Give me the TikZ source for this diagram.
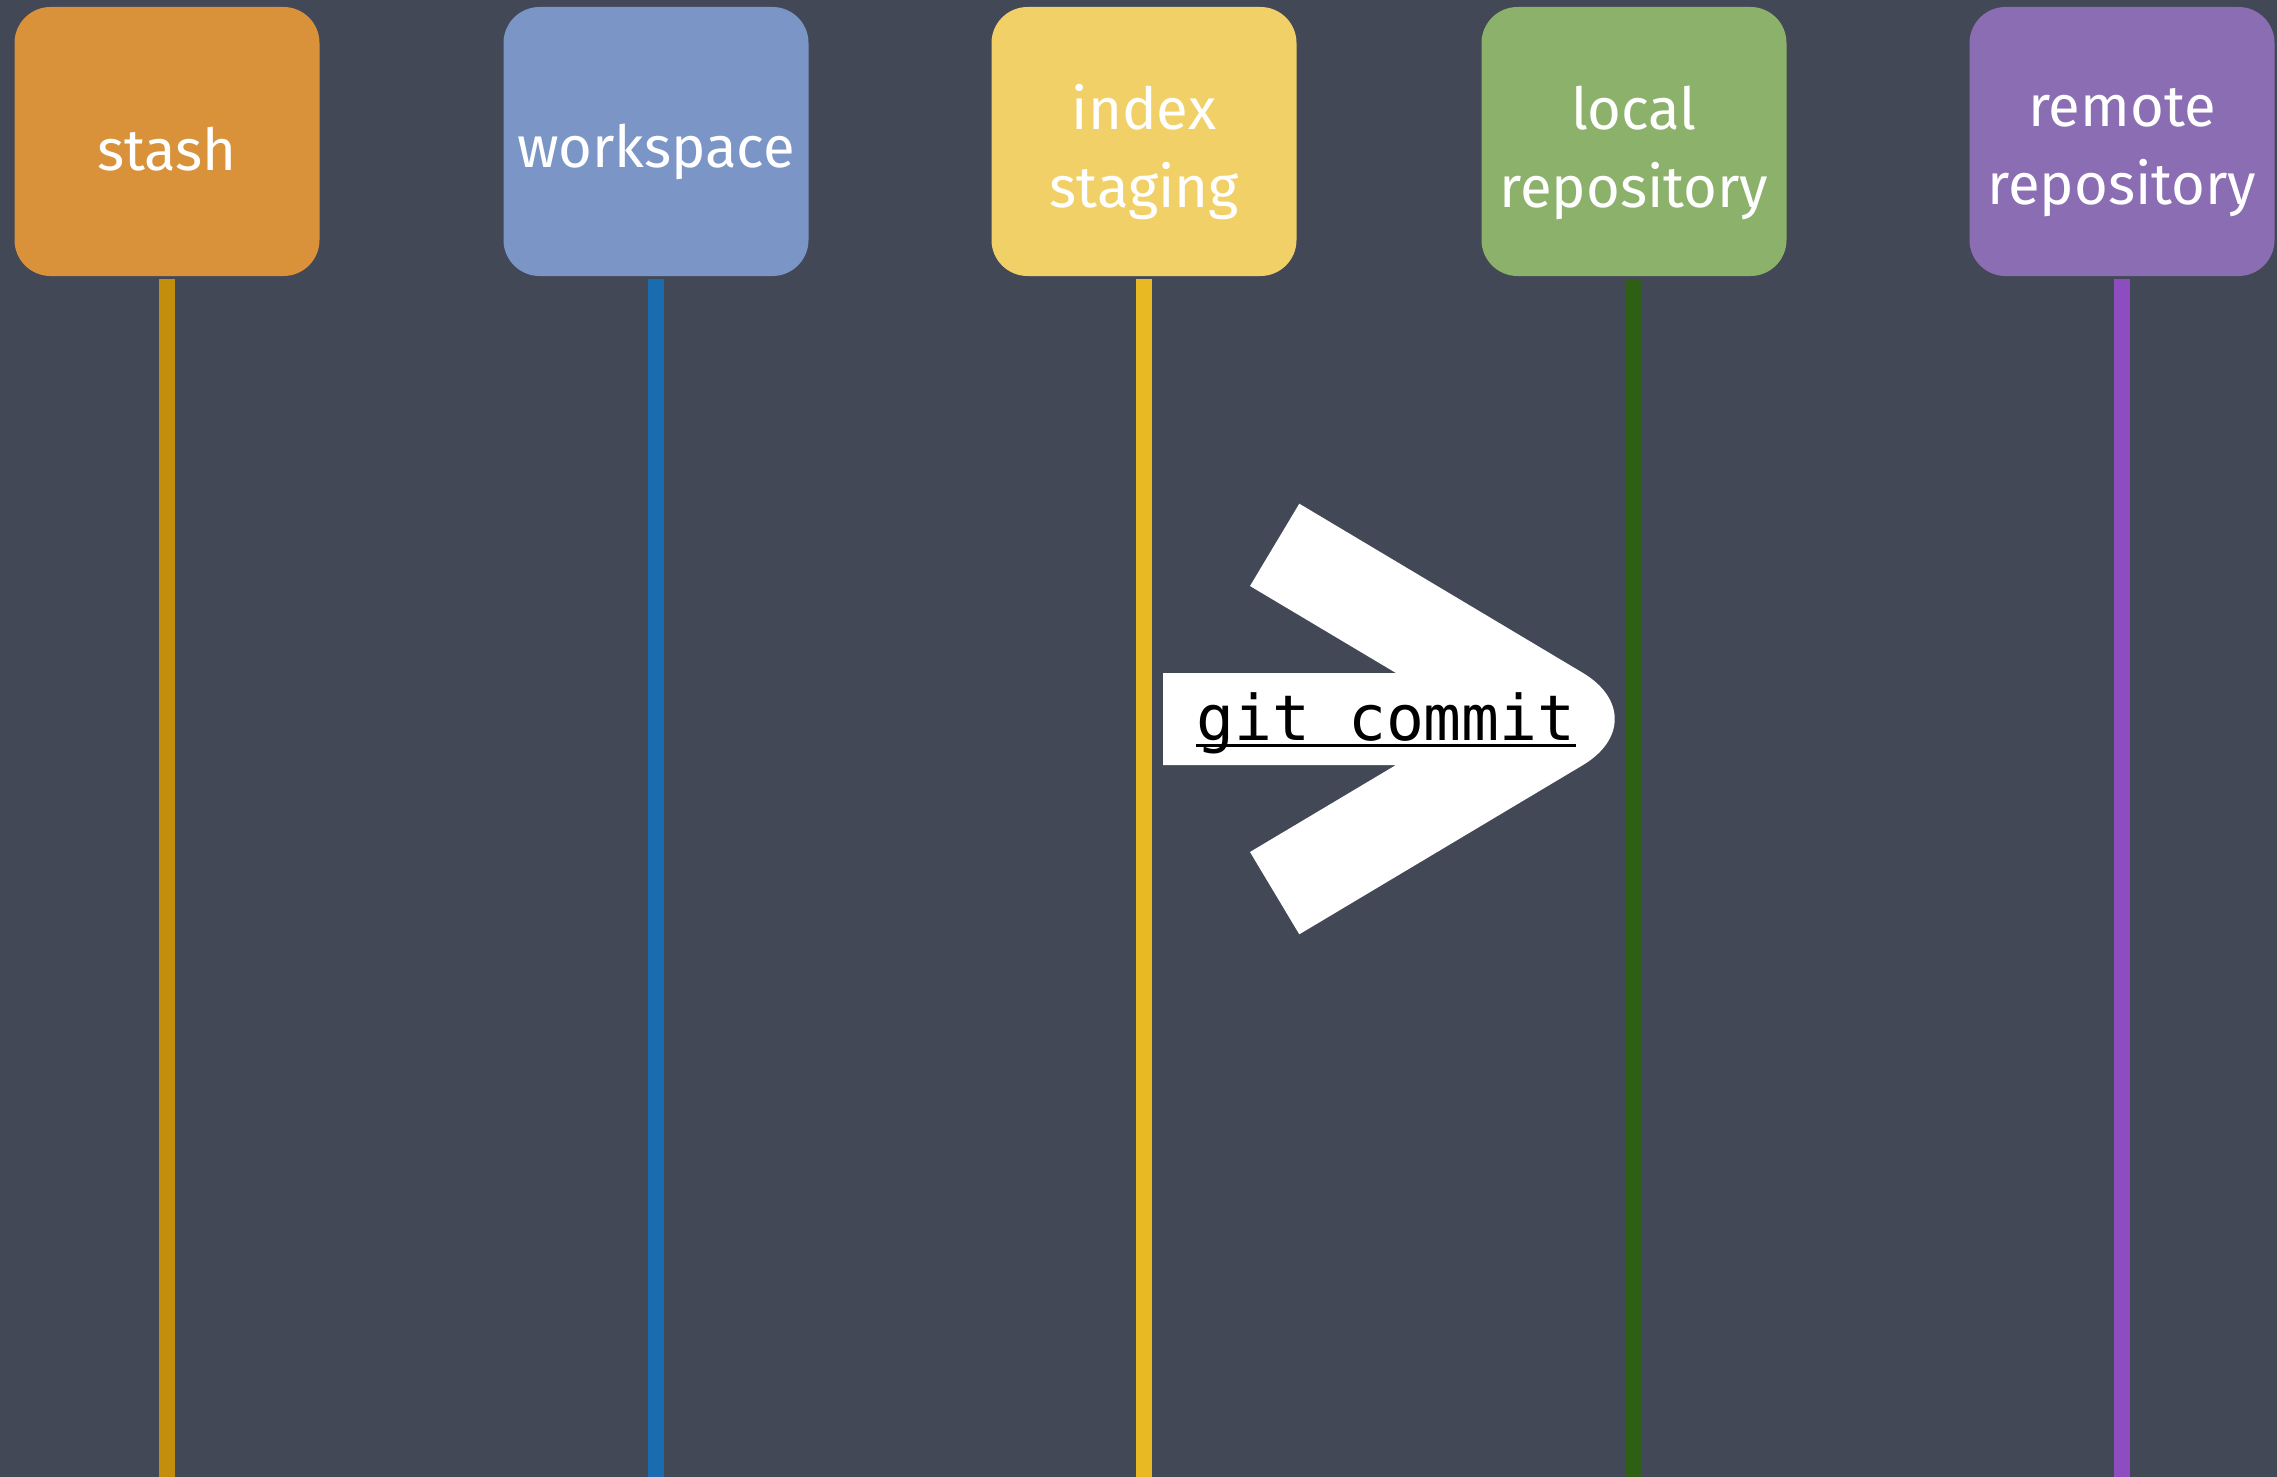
\documentclass[tikz,border=0pt]{standalone}
\usepackage{fontspec}
\newfontfamily\labelfont{Fira Sans}
\newfontfamily\cmdfont{DejaVu Sans Mono}
\definecolor{bgc}{HTML}{434857}
\definecolor{stashbox}{HTML}{D9913A}
\definecolor{workbox}{HTML}{7B96C6}
\definecolor{indexbox}{HTML}{F1D067}
\definecolor{localbox}{HTML}{8CB16B}
\definecolor{remotebox}{HTML}{8A6DB3}
\definecolor{stashline}{HTML}{C28E0C}
\definecolor{workline}{HTML}{1A6CB0}
\definecolor{indexline}{HTML}{E8B923}
\definecolor{localline}{HTML}{2F5F14}
\definecolor{remoteline}{HTML}{8D4CC0}
\begin{document}
\begin{tikzpicture}[x=0.5pt,y=-0.5pt,
  areabox/.style={rectangle, rounded corners=18pt, minimum width=152.5pt, minimum height=134.5pt,
    inner sep=0pt},
  arealabel/.style={inner sep=0pt, text=white, align=center, font=\labelfont\fontsize{29}{39}\selectfont},
  lane/.style={line width=8pt},
  cmdtext/.style={inner sep=0pt, anchor=base west, text=black, font=\cmdfont\fontsize{31.5}{31.5}\selectfont}]
\fill[bgc] (0,0) rectangle (2277,1477);
\useasboundingbox (0,0) rectangle (2277,1477);
% boxes
\node[areabox, fill=stashbox]  (stash)  at (167,141.5)  {};
\node[areabox, fill=workbox]   (work)   at (656,141.5)  {};
\node[areabox, fill=indexbox]  (index)  at (1144,141.5) {};
\node[areabox, fill=localbox]  (local)  at (1634,141.5) {};
\node[areabox, fill=remotebox] (remote) at (2122,141.5) {};
\node[arealabel] (stashlbl)  at ([yshift=-4pt]stash.center)  {stash};
\node[arealabel] (worklbl)   at ([yshift=-5pt]work.center)   {workspace};
\node[arealabel] (indexlbl)  at ([yshift=-5.5pt]index.center)  {index\\staging};
\node[arealabel] (locallbl)  at ([yshift=-5.5pt]local.center)  {local\\repository};
\node[arealabel] (remotelbl) at ([yshift=-5.5pt]remote.center) {remote\\repository};
% lane ends
\coordinate (stashend)  at (167,1477);
\coordinate (workend)   at (656,1477);
\coordinate (indexend)  at (1144,1477);
\coordinate (localend)  at (1634,1477);
\coordinate (remoteend) at (2122,1477);
\draw[lane, stashline]  ([yshift=-1.5pt]stash.south)  -- (stashend);
\draw[lane, workline]   ([yshift=-1.5pt]work.south)   -- (workend);
\draw[lane, indexline]  ([yshift=-1.5pt]index.south)  -- (indexend);
\draw[lane, localline]  ([yshift=-1.5pt]local.south)  -- (localend);
\draw[lane, remoteline] ([yshift=-1.5pt]remote.south) -- (remoteend);
% big arrow
\fill[white] (1163,673) -- (1396,673) -- (1250,586) -- (1299.3,503.7) -- (1582.7,672.8)
  .. controls (1625.4,698.3) and (1625.4,739.7) .. (1582.7,765.2)
  -- (1299.3,934.3) -- (1250,852) -- (1396,765) -- (1163,765) -- cycle;
\node[cmdtext] (cmd) at (1196,740) {git commit};
\draw[line width=1.5pt] ([yshift=-2.5pt]cmd.base west) -- ([yshift=-2.5pt]cmd.base east);
\end{tikzpicture}
\end{document}
